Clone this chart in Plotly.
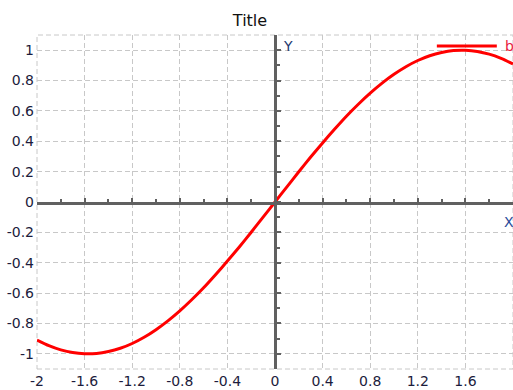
import plotly.graph_objects as go

# Data
x_vals = [-2.0, -1.9, -1.8, -1.7, -1.6, -1.5, -1.4, -1.3, -1.2, -1.1, -1.0,
          -0.9, -0.8, -0.7, -0.6, -0.5, -0.4, -0.3, -0.2, -0.1, 0.0,
          0.1, 0.2, 0.3, 0.4, 0.5, 0.6, 0.7, 0.8, 0.9, 1.0,
          1.1, 1.2, 1.3, 1.4, 1.5, 1.6, 1.7, 1.8, 1.9, 2.0]
y_vals = [-0.909, -0.946, -0.974, -0.992, -0.9996, -0.9975, -0.985, -0.9636, -0.932, -0.891, -0.841,
          -0.783, -0.717, -0.644, -0.565, -0.479, -0.389, -0.296, -0.199, -0.0998, 0.0,
          0.0998, 0.199, 0.296, 0.389, 0.479, 0.565, 0.644, 0.717, 0.783, 0.841,
          0.891, 0.932, 0.9636, 0.985, 0.9975, 0.9996, 0.992, 0.974, 0.946, 0.909]
series_name = "b"
x_tick_vals = [-2, -1.6, -1.2, -0.8, -0.4, 0, 0.4, 0.8, 1.2, 1.6]
x_tick_text = ["-2", "-1.6", "-1.2", "-0.8", "-0.4", "0", "0.4", "0.8", "1.2", "1.6"]
y_tick_vals = [-1, -0.8, -0.6, -0.4, -0.2, 0, 0.2, 0.4, 0.6, 0.8, 1]
y_tick_text = ["-1", "-0.8", "-0.6", "-0.4", "-0.2", "0", "0.2", "0.4", "0.6", "0.8", "1"]

RED = "#ff0000"
GRID = "#c8c8c8"
AXIS = "#606060"
TXT = "#1c1c3c"
FONT = "DejaVu Sans"

fig = go.Figure()
fig.add_trace(go.Scatter(x=x_vals, y=y_vals, mode="lines", name=series_name,
                         line=dict(color=RED, width=3, shape="spline", smoothing=0.6),
                         showlegend=False))
# invisible trace to activate overlay axes
fig.add_trace(go.Scatter(x=[x_vals[0]], y=[y_vals[0]], xaxis="x2", yaxis="y2",
                         mode="markers", marker=dict(opacity=0), showlegend=False,
                         hoverinfo="skip"))

fig.update_layout(
    width=513, height=390,
    margin=dict(l=37, r=0, t=35, b=21, autoexpand=False),
    paper_bgcolor="white", plot_bgcolor="white",
    font=dict(family=FONT, size=14, color=TXT),
    title=dict(text="Title", x=250 / 513, xanchor="center", y=1 - 20 / 390, yanchor="middle",
               font=dict(family=FONT, size=16, color="#111111")),
    xaxis=dict(range=[-2, 2], tickvals=x_tick_vals, ticktext=x_tick_text, automargin=False,
               showgrid=True, gridcolor=GRID, griddash="5px,3px", gridwidth=1,
               zeroline=False, showline=False, ticks="", ticklabelstandoff=2,
               tickfont=dict(family=FONT, size=14, color=TXT)),
    yaxis=dict(range=[-1.1, 1.1], tickvals=y_tick_vals, ticktext=y_tick_text, automargin=False,
               showgrid=True, gridcolor=GRID, griddash="5px,3px", gridwidth=1,
               zeroline=False, showline=False, ticks="", ticklabelstandoff=2,
               tickfont=dict(family=FONT, size=14, color=TXT)),
    xaxis2=dict(overlaying="x", matches="x", anchor="free", position=0.497, side="bottom",
                automargin=False,
                showline=True, linecolor=AXIS, linewidth=2.5, showgrid=False, zeroline=False,
                showticklabels=False, ticks="inside", ticklen=4, tickcolor=AXIS, tickwidth=2,
                tickvals=x_tick_vals,
                minor=dict(dtick=0.2, tick0=0, ticks="inside", ticklen=3, tickcolor=AXIS, tickwidth=2)),
    yaxis2=dict(overlaying="y", matches="y", anchor="free", position=0.5, side="left",
                automargin=False,
                showline=True, linecolor=AXIS, linewidth=2.5, showgrid=False, zeroline=False,
                showticklabels=False, ticks="inside", ticklen=4, tickcolor=AXIS, tickwidth=2,
                tickvals=y_tick_vals,
                minor=dict(dtick=0.1, tick0=0, ticks="inside", ticklen=3, tickcolor=AXIS, tickwidth=2)),
    shapes=[
        dict(type="rect", xref="paper", yref="paper", x0=0, x1=1, y0=0, y1=1,
             line=dict(color=GRID, width=1, dash="5px,3px"), layer="below"),
        dict(type="line", xref="paper", yref="paper", x0=0.840, x1=0.966, y0=0.967, y1=0.967,
             line=dict(color=RED, width=3)),
    ],
    annotations=[
        dict(text=series_name, xref="paper", yref="paper", x=0.978, y=0.967,
             xanchor="left", yanchor="middle", showarrow=False,
             font=dict(family=FONT, size=14, color="#e8203c")),
        dict(text="Y", xref="paper", yref="paper", x=(281 - 37) / 476, y=(369 - 46) / 334,
             xanchor="left", yanchor="middle", showarrow=False,
             font=dict(family=FONT, size=14, color="#1f3a70")),
        dict(text="X", xref="paper", yref="paper", x=(502 - 37) / 476, y=(369 - 222) / 334,
             xanchor="left", yanchor="middle", showarrow=False,
             font=dict(family=FONT, size=14, color="#2a4a9a")),
    ],
)

fig.write_html("out.html", config={"displayModeBar": False},
               post_script="document.body.style.margin='0';document.body.style.overflow='hidden';")
